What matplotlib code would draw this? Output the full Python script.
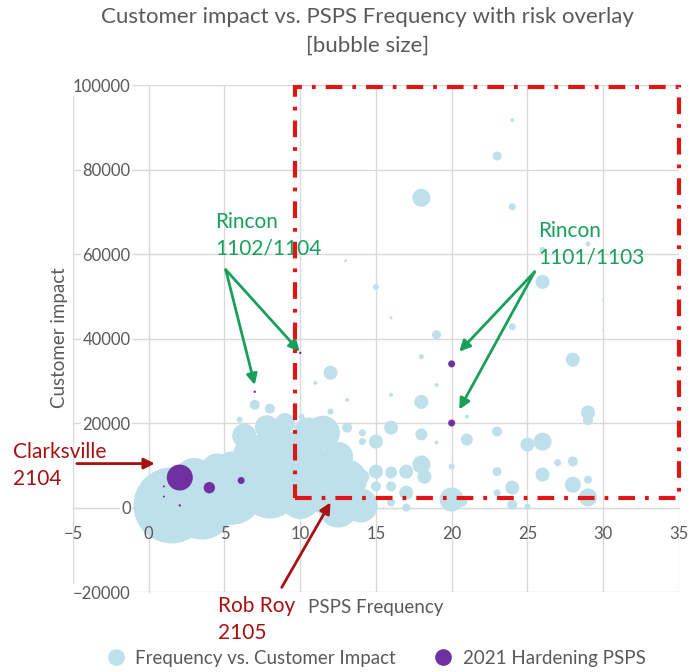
import numpy as np
import matplotlib
matplotlib.use('Agg')
from matplotlib import pyplot as plt
from matplotlib.patches import Rectangle
from matplotlib.lines import Line2D

plt.rcParams['font.family'] = ['Lato', 'DejaVu Sans']

## Frequency vs. Customer Impact (light blue bubbles): x, y, bubble radius estimate
freq = [1.5, 3.5, 5.5, 5.5, 7.0, 8.5, 8.0, 6.3, 7.8, 9.0, 10.5, 10.5, 10.0, 11.3, 13.1,
        12.5, 14.0, 11.5, 12.5, 3.0, 4.5, 9.5,
        7.0, 8.0, 6.0, 10.1, 12.0, 12.0, 11.0, 13.1, 18.0, 16.0, 15.0, 18.0, 13.1, 14.1,
        14.1, 21.0, 15.0, 16.0, 17.0, 18.0, 18.2, 15.0, 16.0, 17.0, 14.1, 20.0, 20.0, 16.0,
        17.0, 16.0, 19.0, 21.0, 29.0, 29.0, 23.0, 25.0, 26.0, 27.0, 28.0, 23.0, 26.0, 28.0,
        29.0, 24.0, 23.0, 29.0, 24.0, 25.0, 20.7, 24.0, 23.0, 18.0, 24.0, 29.0, 26.0, 26.0,
        13.0, 15.0, 16.0, 19.0, 24.0, 30.0, 30.0, 28.0, 18.0, 19.0]
impact = [500, 0, 3000, 9000, 12000, 13000, 4000, 17000, 19000, 20000, 10000, 18000, 2000, 4300, 6600,
          0, 500, 17700, 12000, 7000, 9000, 7000,
          24300, 23400, 20800, 21500, 31900, 22700, 29500, 25500, 25000, 18900, 15600, 17300, 18900, 17700,
          15600, 16100, 8500, 8300, 8500, 10200, 7300, 5000, 5000, 3500, 7300, 1900, 9700, 26700,
          0, 1200, 15400, 21500, 22500, 20700, 18000, 14900, 15600, 10600, 10900, 8500, 7800, 5400,
          6600, 4700, 3500, 2400, 700, 200, 1400, 91700, 83200, 73300, 71200, 62400, 53400, 61000,
          58400, 52200, 44900, 40900, 42800, 49200, 42000, 35000, 35700, 29000]
bubble = [38, 32, 30, 18, 22, 25, 28, 12, 12, 10, 22, 14, 20, 23, 20,
          20, 17, 17, 15, 20, 16, 20,
          5, 5, 3, 3, 7, 3, 2, 2, 7, 7, 7, 6, 5, 3.5,
          3.5, 6, 7, 6, 7, 9, 7, 5, 5, 7, 7, 12, 3, 2,
          4, 4, 2, 2, 7, 5, 5, 7, 9, 3.5, 5, 4.5, 7, 8,
          4, 7, 3.5, 9, 5, 3, 5, 2, 4.5, 9, 3.5, 2.5, 7, 3,
          1.5, 3, 1.5, 4.5, 3.5, 1, 1, 7, 2.5, 2]

## 2021 Hardening PSPS (purple bubbles)
hard_freq = [2.05, 4.0, 6.1, 20.0, 20.0, 1.0, 1.0, 2.05, 7.0, 10.0]
hard_impact = [7100, 4700, 6400, 34000, 20000, 5000, 2600, 500, 27400, 36600]
hard_bubble = [13, 5.7, 3.5, 3.5, 3.5, 1, 1, 1.2, 1.2, 1.2]

light = '#BEE0EA'
purple = '#7030A0'
green = '#18A05A'
dred = '#A81010'
txt = '#595959'
gridc = '#D9D9D9'

fig = plt.figure(figsize=(6.94, 6.72), dpi=100)
ax = fig.add_axes([0.1052, 0.119, 0.873, 0.7545])

## radius in px -> scatter area in pt^2
s1 = (1.44*np.array(bubble))**2
s2 = (1.44*np.array(hard_bubble))**2
ax.scatter(freq, impact, s=s1, c=light, edgecolors='none', zorder=2)
ax.scatter(hard_freq, hard_impact, s=s2, c=purple, edgecolors='none', zorder=3)

ax.set_xlim(-5, 35)
ax.set_ylim(-20000, 100000)
ax.set_xticks(np.arange(-5, 36, 5))
ax.set_yticks(np.arange(-20000, 100001, 20000))

## gridlines behind the bubbles
ax.vlines(ax.get_xticks(), -20000, 100000, color=gridc, lw=1, zorder=0.1)
ax.hlines(ax.get_yticks(), -5, 35, color=gridc, lw=1, zorder=0.1)

for sp in ['top', 'right']:
    ax.spines[sp].set_visible(False)
## axes cross at (0, 0) like the Excel chart
for sp in ['left', 'bottom']:
    ax.spines[sp].set_color(gridc)
    ax.spines[sp].set_position(('data', 0))
    ax.spines[sp].set_zorder(0.2)
ax.tick_params(axis='both', length=0, labelsize=12, colors=txt)
ax.tick_params(axis='y', pad=13)
ax.tick_params(axis='x', pad=13)
ax.yaxis.set_zorder(0.5)
ax.xaxis.set_zorder(5)
for lbl in ax.get_yticklabels():
    lbl.set_bbox(dict(fc='white', ec='none', pad=1))

## risk overlay box
box = Rectangle((9.65, 2200), 35-9.65, 99500-2200, fill=False, ec='#E01515', lw=3,
                linestyle=(0, (4, 2.4, 0.9, 2.4)), zorder=4, clip_on=False)
ax.add_patch(box)

ax.text(-5.87, 40200, 'Customer impact', rotation=90, ha='center', va='center', fontsize=13.5, color=txt)
ax.text(14.98, -23640, 'PSPS Frequency', ha='center', va='center', fontsize=13.5, color=txt)

fig.text(0.530, 0.975, 'Customer impact vs. PSPS Frequency with risk overlay', ha='center', va='center',
         fontsize=16, color=txt)
fig.text(0.530, 0.932, '[bubble size]', ha='center', va='center', fontsize=16, color=txt)

## annotations
aprops = dict(arrowstyle='-|>', lw=2, mutation_scale=16, shrinkA=0, shrinkB=0)
ax.text(4.36, 64500, 'Rincon\n1102/1104', color=green, fontsize=15, va='center', ha='left', linespacing=1.4)
for tx, ty in [(7.0, 29000), (9.97, 36900)]:
    ax.annotate('', xy=(tx, ty), xytext=(5.08, 56300), arrowprops=dict(color=green, **aprops))

ax.text(25.74, 62400, 'Rincon\n1101/1103', color=green, fontsize=15, va='center', ha='left', linespacing=1.4)
for tx, ty in [(20.5, 36900), (20.5, 23200)]:
    ax.annotate('', xy=(tx, ty), xytext=(25.48, 55800), arrowprops=dict(color=green, **aprops))

ax.text(-8.98, 9900, 'Clarksville\n2104', color=dred, fontsize=15, va='center', ha='left', linespacing=1.4)
ax.annotate('', xy=(0.4, 10400), xytext=(-4.75, 10400), arrowprops=dict(color=dred, **aprops),
            annotation_clip=False)

ax.text(4.6, -26500, 'Rob Roy\n2105', color=dred, fontsize=15, va='center', ha='left', linespacing=1.4)
ax.annotate('', xy=(12.0, 1200), xytext=(8.78, -18900), arrowprops=dict(color=dred, **aprops),
            annotation_clip=False, zorder=6)

handles = [Line2D([], [], marker='o', ls='none', color=light, markersize=11),
           Line2D([], [], marker='o', ls='none', color=purple, markersize=11)]
fig.legend(handles, ['Frequency vs. Customer Impact', '2021 Hardening PSPS'], loc='center',
           bbox_to_anchor=(0.535, 0.02), ncol=2, frameon=False, fontsize=13.5, handletextpad=0.05,
           columnspacing=1.5, labelcolor=txt)

fig.savefig('out.png', dpi=100)
